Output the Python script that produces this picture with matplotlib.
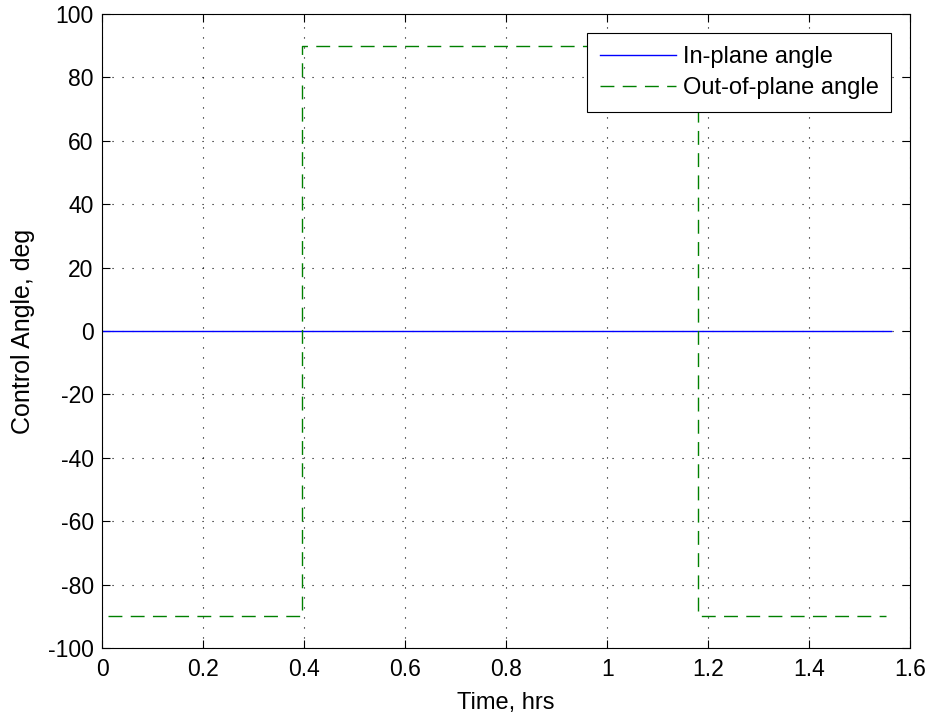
import matplotlib
matplotlib.use("Agg")
import matplotlib.pyplot as plt

# data
t_in = [0.0, 1.562]
in_plane = [0, 0]

t_out = [0.012, 0.395, 0.395, 1.18, 1.18, 1.552]
out_plane = [-90, -90, 90, 90, -90, -90]

xticks = [0, 0.2, 0.4, 0.6, 0.8, 1, 1.2, 1.4, 1.6]
xtick_labels = ["0", "0.2", "0.4", "0.6", "0.8", "1", "1.2", "1.4", "1.6"]
yticks = list(range(-100, 101, 20))

plt.rcParams['font.family'] = ['Liberation Sans', 'DejaVu Sans']
plt.rcParams['axes.unicode_minus'] = False
fs = 17

fig = plt.figure(figsize=(9.28, 7.17), dpi=100)
ax = fig.add_axes([0.110, 0.0962, 0.871, 0.8843])

ax.plot(t_in, in_plane, color=(0, 0, 1), lw=1.0, label="In-plane angle")
ax.plot(t_out, out_plane, color=(0, 0.5, 0), lw=1.0, linestyle=(0, (10, 6)),
        label="Out-of-plane angle")

ax.set_xlim(0, 1.6)
ax.set_ylim(-100, 100)
ax.set_xticks(xticks)
ax.set_xticklabels(xtick_labels)
ax.set_yticks(yticks)

ax.grid(True, color="black", linestyle=(0, (1, 8)), linewidth=0.8)
ax.tick_params(direction="in", length=5.5, width=0.8, top=True, right=True,
               labelsize=16.5)
ax.tick_params(axis="x", pad=7)
ax.tick_params(axis="y", pad=6)
for s in ax.spines.values():
    s.set_linewidth(0.8)

ax.set_xlabel("Time, hrs", fontsize=fs, labelpad=8)
ax.set_ylabel("Control Angle, deg", fontsize=18, labelpad=9)

leg = ax.legend(loc="upper right", fontsize=fs, fancybox=False, framealpha=1,
                edgecolor="black", handlelength=3.2, handletextpad=0.3,
                labelspacing=0.4, borderpad=0.55, borderaxespad=0.8)
leg.get_frame().set_linewidth(0.8)

fig.savefig("out.png", dpi=100)
